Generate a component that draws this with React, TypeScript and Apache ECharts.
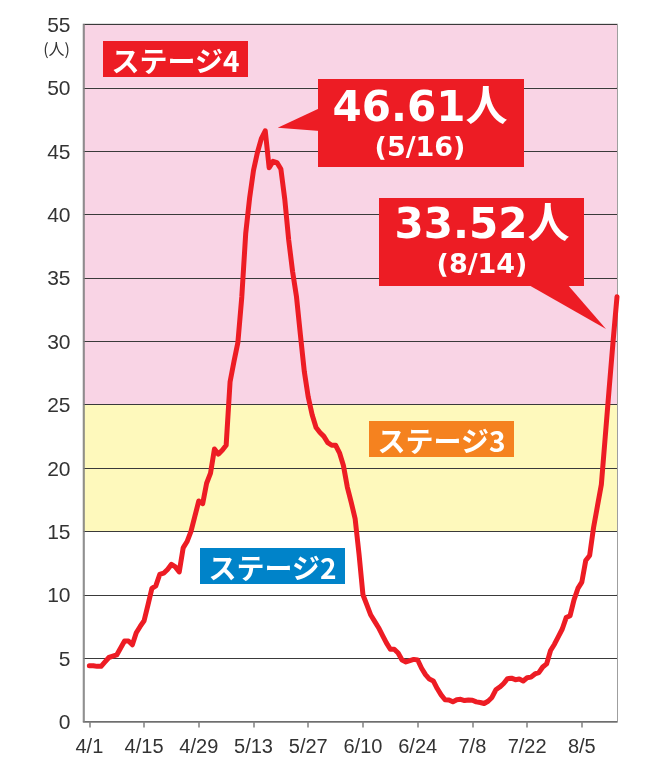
import React, { useEffect, useRef } from "react";
import * as echarts from "echarts";

// Daily values (7-day average per 100k), 4/1 .. 8/14 (day index 0..135)
const values: number[] = [
  4.4, 4.4, 4.35, 4.35, 4.7, 5.05, 5.15, 5.25, 5.8, 6.35,
  6.35, 6.05, 7.0, 7.5, 7.95, 9.2, 10.5, 10.7, 11.6, 11.7,
  12.0, 12.4, 12.2, 11.8, 13.7, 14.2, 15.0, 16.2, 17.4, 17.2,
  18.8, 19.6, 21.5, 21.1, 21.4, 21.8, 26.8, 28.4, 29.9, 33.5,
  38.5, 41.3, 43.5, 44.9, 46.0, 46.61, 43.7, 44.2, 44.1, 43.6,
  41.2, 38.0, 35.5, 33.5, 30.5, 27.6, 25.6, 24.2, 23.2, 22.8,
  22.5, 22.0, 21.8, 21.8, 21.2, 20.2, 18.5, 17.3, 16.0, 13.2,
  10.0, 9.2, 8.4, 7.9, 7.4, 6.8, 6.2, 5.7, 5.7, 5.4,
  4.85, 4.7, 4.8, 4.9, 4.85, 4.2, 3.7, 3.35, 3.2, 2.6,
  2.1, 1.72, 1.7, 1.55, 1.72, 1.75, 1.65, 1.7, 1.68, 1.55,
  1.5, 1.42, 1.6, 1.9, 2.5, 2.72, 3.0, 3.38, 3.42, 3.3,
  3.35, 3.2, 3.45, 3.5, 3.75, 3.85, 4.3, 4.55, 5.6, 6.1,
  6.7, 7.3, 8.2, 8.35, 9.6, 10.5, 11.0, 12.7, 13.1, 15.3,
  17.0, 18.7, 22.5, 26.3, 30.0, 33.52,
];

const tickDays: number[] = [0, 14, 28, 42, 56, 70, 84, 98, 112, 126];
const tickLabels: string[] = ["4/1", "4/15", "4/29", "5/13", "5/27", "6/10", "6/24", "7/8", "7/22", "8/5"];

const stageNames: string[] = ["ステージ4", "ステージ3", "ステージ2"];
const stageColors: string[] = ["#ed1c24", "#f5821f", "#0083c9"];

const peakLabel = { value: "46.61人", date: "(5/16)" };
const lastLabel = { value: "33.52人", date: "(8/14)" };

const RED = "#ed1c24";
const PINK = "#f9d4e5";
const YELLOW = "#fef9bc";
const WHITE = "#ffffff";

export default function App() {
  const ref = useRef<HTMLDivElement>(null);

  useEffect(() => {
    if (!ref.current) return;
    const chart = echarts.init(ref.current, null, { renderer: "svg" });
    const font = "Liberation Sans, Arial, sans-serif";
    const bigFont = "DejaVu Sans, Noto Sans CJK JP, sans-serif";
    const jp = "Noto Sans CJK JP, sans-serif";

    const stageBox = (name: string, color: string, x: number, y: number) => ({
      type: "group",
      x,
      y,
      z: 100,
      children: [
        { type: "rect", z: 100, shape: { x: 0, y: 0, width: 145, height: 36 }, style: { fill: color } },
        {
          type: "text",
          z: 101,
          x: 72.5,
          y: 18.5,
          style: {
            text: name,
            fill: "#fff",
            font: `bold 28px ${jp}`,
            textAlign: "center",
            textVerticalAlign: "middle",
          },
        },
      ],
    });

    const option: any = {
      animation: false,
      grid: {
        left: 83.5,
        right: 29,
        top: 24.5,
        bottom: 44.5,
        show: true,
        borderColor: "#808080",
        borderWidth: 1.5,
        backgroundColor: "transparent",
      },
      xAxis: {
        type: "value",
        min: -1.5,
        max: values.length - 1,
        splitLine: { show: false },
        axisLine: { show: true, onZero: false, lineStyle: { color: "#808080", width: 1.5 } },
        axisTick: {
          show: true,
          customValues: tickDays,
          length: 6,
          lineStyle: { color: "#808080", width: 1.5 },
        },
        axisLabel: {
          customValues: tickDays,
          formatter: (v: number) => tickLabels[tickDays.indexOf(Math.round(v))] ?? "",
          color: "#333",
          fontSize: 20,
          fontFamily: font,
          margin: 14,
        },
      },
      yAxis: {
        type: "value",
        min: 0,
        max: 55,
        interval: 5,
        axisLine: { show: true, onZero: false, lineStyle: { color: "#808080", width: 1.5 } },
        axisTick: { show: false },
        axisLabel: { color: "#333", fontSize: 21, fontFamily: font, margin: 13 },
        splitLine: { show: true, lineStyle: { color: "#3a3a3a", width: 1.2 } },
        splitArea: {
          show: true,
          areaStyle: {
            color: [WHITE, WHITE, WHITE, YELLOW, YELLOW, PINK, PINK, PINK, PINK, PINK, PINK],
          },
        },
      },
      series: [
        {
          type: "line",
          data: values.map((v, i) => [i, v]),
          showSymbol: false,
          symbol: "none",
          z: 5,
          lineStyle: { color: RED, width: 5, join: "round", cap: "round" },
        },
      ],
      graphic: {
        z: 100,
        elements: [
          {
            type: "text",
            z: 100,
            x: 70,
            y: 48,
            style: { text: "(人)", fill: "#333", font: `16px ${jp}`, textAlign: "right", textVerticalAlign: "middle" },
          },
          stageBox(stageNames[0], stageColors[0], 103, 41),
          stageBox(stageNames[1], stageColors[1], 369, 421),
          stageBox(stageNames[2], stageColors[2], 200, 548),
          {
            type: "polygon",
            z: 100,
            shape: { points: [[277.7, 127.7], [320, 108], [320, 131]] },
            style: { fill: RED },
          },
          { type: "rect", z: 100, shape: { x: 318, y: 79, width: 206, height: 88 }, style: { fill: RED } },
          {
            type: "text",
            z: 101,
            x: 420,
            y: 106,
            style: { text: peakLabel.value, fill: "#fff", font: `bold 42px ${bigFont}`, textAlign: "center", textVerticalAlign: "middle" },
          },
          {
            type: "text",
            z: 101,
            x: 420,
            y: 146,
            style: { text: peakLabel.date, fill: "#fff", font: `bold 27px ${bigFont}`, textAlign: "center", textVerticalAlign: "middle" },
          },
          {
            type: "polygon",
            z: 100,
            shape: { points: [[527, 284], [567, 284], [606, 329]] },
            style: { fill: RED },
          },
          { type: "rect", z: 100, shape: { x: 379, y: 198, width: 205, height: 88 }, style: { fill: RED } },
          {
            type: "text",
            z: 101,
            x: 482,
            y: 223,
            style: { text: lastLabel.value, fill: "#fff", font: `bold 42px ${bigFont}`, textAlign: "center", textVerticalAlign: "middle" },
          },
          {
            type: "text",
            z: 101,
            x: 482,
            y: 263,
            style: { text: lastLabel.date, fill: "#fff", font: `bold 27px ${bigFont}`, textAlign: "center", textVerticalAlign: "middle" },
          },
        ],
      },
    };
    chart.setOption(option);
    return () => chart.dispose();
  }, []);

  return <div ref={ref} style={{ position: "fixed", left: 0, top: 0, width: 646, height: 766 }} />;
}
